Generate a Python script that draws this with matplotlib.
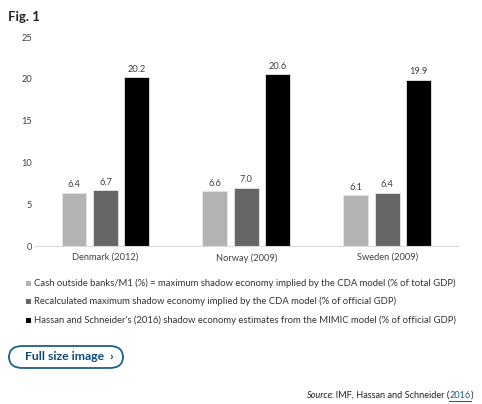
import matplotlib.pyplot as plt
from matplotlib.patches import FancyBboxPatch, Rectangle
import numpy as np

plt.rcParams['font.family'] = ['Lato', 'DejaVu Sans']

countries = ["Denmark (2012)", "Norway (2009)", "Sweden (2009)"]
cash_m1 = [6.4, 6.6, 6.1]
recalculated = [6.7, 7.0, 6.4]
mimic = [20.2, 20.6, 19.9]

series_labels = [
    "Cash outside banks/M1 (%) = maximum shadow economy implied by the CDA model (% of total GDP)",
    "Recalculated maximum shadow economy implied by the CDA model (% of official GDP)",
    "Hassan and Schneider's (2016) shadow economy estimates from the MIMIC model (% of official GDP)",
]
colors = ["#b3b3b3", "#666666", "#000000"]
yticks = [0, 5, 10, 15, 20, 25]

W, H = 482, 404
fig = plt.figure(figsize=(W / 100, H / 100), dpi=100)
ax = fig.add_axes([0.0726, 0.391, 0.877, 0.517])

x = np.arange(len(countries))
w = 0.177
off = 0.223
for i, (vals, col) in enumerate(zip([cash_m1, recalculated, mimic], colors)):
    bars = ax.bar(x + (i - 1) * off, vals, w, color=col, edgecolor="#e6e6e6", linewidth=0.6)
    for b, v in zip(bars, vals):
        ax.text(b.get_x() + b.get_width() / 2, v + 0.4, f"{v:.1f}",
                ha="center", va="bottom", fontsize=6.7, color="#404040")

ax.set_xlim(-0.5, 2.5)
ax.set_ylim(0, 25)
ax.set_yticks(yticks)
ax.set_xticks(x)
ax.set_xticklabels(countries)
ax.tick_params(axis="both", length=0, labelsize=6.7, colors="#404040")
ax.tick_params(axis="y", pad=2)
ax.tick_params(axis="x", pad=5)
for s in ["top", "right", "left"]:
    ax.spines[s].set_visible(False)
ax.spines["bottom"].set_color("#d9d9d9")
ax.spines["bottom"].set_linewidth(0.8)

# legend rows under the chart
for j, (lab, col) in enumerate(zip(series_labels, colors)):
    yc = 283 + j * 18.7
    fig.patches.append(Rectangle((26 / W, 1 - (yc + 2.5) / H), 5 / W, 5 / H,
                                 transform=fig.transFigure, facecolor=col, edgecolor="none"))
    fig.text(34 / W, 1 - yc / H, lab, fontsize=6.85, va="center", ha="left", color="#333333")

fig.text(8 / W, 1 - 17 / H, "Fig. 1", fontsize=9.5, fontweight="bold",
         va="center", ha="left", color="#222222")

# "Full size image" button
btn = FancyBboxPatch((9 / W, 1 - 368 / H), 114 / W, 22 / H,
                     boxstyle="round,pad=0,rounding_size=0.028",
                     transform=fig.transFigure, fill=False,
                     edgecolor="#1f5f8b", linewidth=1.3)
fig.patches.append(btn)
fig.text(25 / W, 1 - 357 / H, "Full size image  \u203A", fontsize=8.8, fontweight="bold",
         va="center", ha="left", color="#0f4c7a")

# source line
fs = 6.6
src_y = 1 - 395 / H
t3 = fig.text(473 / W, src_y, ")", fontsize=fs, va="center", ha="right", color="#222222")
fig.canvas.draw()
r = fig.canvas.get_renderer()
bb = t3.get_window_extent(r)
t2 = fig.text(bb.x0 / W, src_y, "2016", fontsize=fs, va="center", ha="right", color="#1f5f8b")
bb2 = t2.get_window_extent(r)
fig.lines.append(plt.Line2D([bb2.x0 / W, bb2.x1 / W], [src_y - 6 / H, src_y - 6 / H],
                            transform=fig.transFigure, color="#1f5f8b", linewidth=0.8))
t1 = fig.text(bb2.x0 / W, src_y, ": IMF, Hassan and Schneider (", fontsize=fs,
              va="center", ha="right", color="#222222")
bb1 = t1.get_window_extent(r)
fig.text((bb1.x0 + 2) / W, src_y, "Source", fontsize=fs, style="italic",
         va="center", ha="right", color="#222222")

fig.savefig("out.png", dpi=100)
